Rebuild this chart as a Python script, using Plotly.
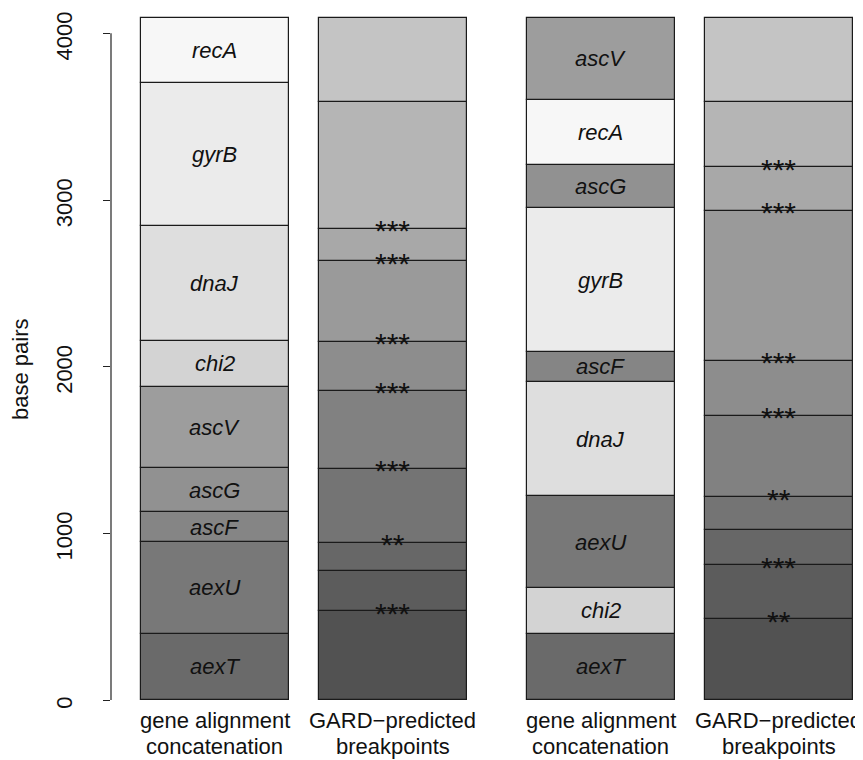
import plotly.graph_objects as go
import numpy as np

# ---- data ----
genes = ["aexT", "aexU", "ascF", "ascG", "ascV", "chi2", "dnaJ", "gyrB", "recA"]
gene_lengths = [398, 550, 180, 262, 490, 274, 688, 860, 390]
gene_colors = ["#6A6A6A", "#787878", "#858585", "#919191", "#9D9D9D",
               "#D3D3D3", "#DEDEDE", "#EBEBEB", "#F7F7F7"]

# stacking order (bottom -> top) in the two concatenations
order_left = ["aexT", "aexU", "ascF", "ascG", "ascV", "chi2", "dnaJ", "gyrB", "recA"]
order_right = ["aexT", "chi2", "aexU", "dnaJ", "ascF", "gyrB", "ascG", "recA", "ascV"]

# GARD-predicted breakpoints (base pairs) and their significance
bp_left = [534, 774, 944, 1387, 1855, 2151, 2633, 2829, 3589]
sig_left = ["***", "", "**", "***", "***", "***", "***", "***", ""]
bp_right = [484, 810, 1020, 1217, 1705, 2035, 2937, 3197, 3591]
sig_right = ["**", "***", "", "**", "***", "***", "***", "***", ""]

segment_grays = ["#525252", "#5C5C5C", "#676767", "#747474", "#818181",
                 "#8D8D8D", "#9A9A9A", "#A8A8A8", "#B5B5B5", "#C4C4C4"]

bar_positions = [0.7, 1.9, 3.3, 4.5]
bar_label_line1 = ["gene alignment", "GARD\u2212predicted", "gene alignment", "GARD\u2212predicted"]
bar_label_line2 = ["concatenation", "breakpoints", "concatenation", "breakpoints"]
y_ticks = [0, 1000, 2000, 3000, 4000]

FONT = "Liberation Sans, Arial, Helvetica, sans-serif"
FS = 22
total = sum(gene_lengths)
length_of = dict(zip(genes, gene_lengths))
color_of = dict(zip(genes, gene_colors))

fig = go.Figure()
annotations = []


def add_gene_bar(xpos, order):
    lens = [length_of[g] for g in order]
    bases = list(np.cumsum([0] + lens[:-1]))
    fig.add_trace(go.Bar(
        x=[xpos] * len(order), y=lens, base=bases, width=1.0,
        marker=dict(color=[color_of[g] for g in order],
                    line=dict(color="#1a1a1a", width=1.2)),
        hovertext=order, showlegend=False))
    for g, b, l in zip(order, bases, lens):
        annotations.append(dict(x=xpos, y=b + l / 2, xref="x", yref="y",
                                text="<i>" + g + "</i>", showarrow=False,
                                font=dict(family=FONT, size=FS, color="#111111")))


def add_gard_bar(xpos, bps, sigs):
    edges = [0] + bps + [total]
    lens = list(np.diff(edges))
    bases = edges[:-1]
    fig.add_trace(go.Bar(
        x=[xpos] * len(lens), y=lens, base=bases, width=1.0,
        marker=dict(color=segment_grays, line=dict(color="#1a1a1a", width=1.2)),
        showlegend=False))
    for b, s in zip(bps, sigs):
        if s:
            annotations.append(dict(x=xpos, y=b, xref="x", yref="y", text=s,
                                    showarrow=False, yshift=-2,
                                    font=dict(family=FONT, size=30, color="#111111")))


add_gene_bar(bar_positions[0], order_left)
add_gard_bar(bar_positions[1], bp_left, sig_left)
add_gene_bar(bar_positions[2], order_right)
add_gard_bar(bar_positions[3], bp_right, sig_right)

# category labels below bars (two lines, R style spacing)
for xp, l1, l2 in zip(bar_positions, bar_label_line1, bar_label_line2):
    annotations.append(dict(x=xp, y=-0.0246, xref="x", yref="paper", text=l1,
                            showarrow=False, yanchor="middle",
                            font=dict(family=FONT, size=FS, color="#111111")))
    annotations.append(dict(x=xp, y=-0.0609, xref="x", yref="paper", text=l2,
                            showarrow=False, yanchor="middle",
                            font=dict(family=FONT, size=FS, color="#111111")))

# y axis title
annotations.append(dict(x=-0.1208, y=0.485, xref="paper", yref="paper", text="base pairs",
                        showarrow=False, textangle=-90, xanchor="center", yanchor="middle",
                        font=dict(family=FONT, size=FS, color="#111111")))

# the page body adds an 8px offset; figure size and margins compensate for it
fig.update_layout(
    width=855, height=752,
    margin=dict(l=103, r=4, t=6, b=56),
    paper_bgcolor="white", plot_bgcolor="white",
    barmode="overlay", bargap=0,
    font=dict(family=FONT, size=FS, color="#111111"),
    annotations=annotations,
    shapes=[dict(type="line", xref="paper", yref="y", x0=0, x1=0,
                 y0=y_ticks[0], y1=y_ticks[-1], line=dict(color="#222222", width=1.2))],
    xaxis=dict(range=[0, 5.04], showticklabels=False, automargin=False,
               showgrid=False, zeroline=False, showline=False, ticks=""),
    yaxis=dict(range=[-24, 4116], tickvals=y_ticks, ticktext=[str(v) for v in y_ticks],
               showgrid=False, zeroline=False, showline=False, automargin=False,
               ticks="outside", ticklen=7, tickwidth=1.2, tickcolor="#222222",
               tickangle=-90, ticklabelstandoff=22, ticklabelshift=6,
               ticklabeloverflow="allow",
               tickfont=dict(size=FS, family=FONT, color="#111111")),
)

fig.write_html("out.html")
